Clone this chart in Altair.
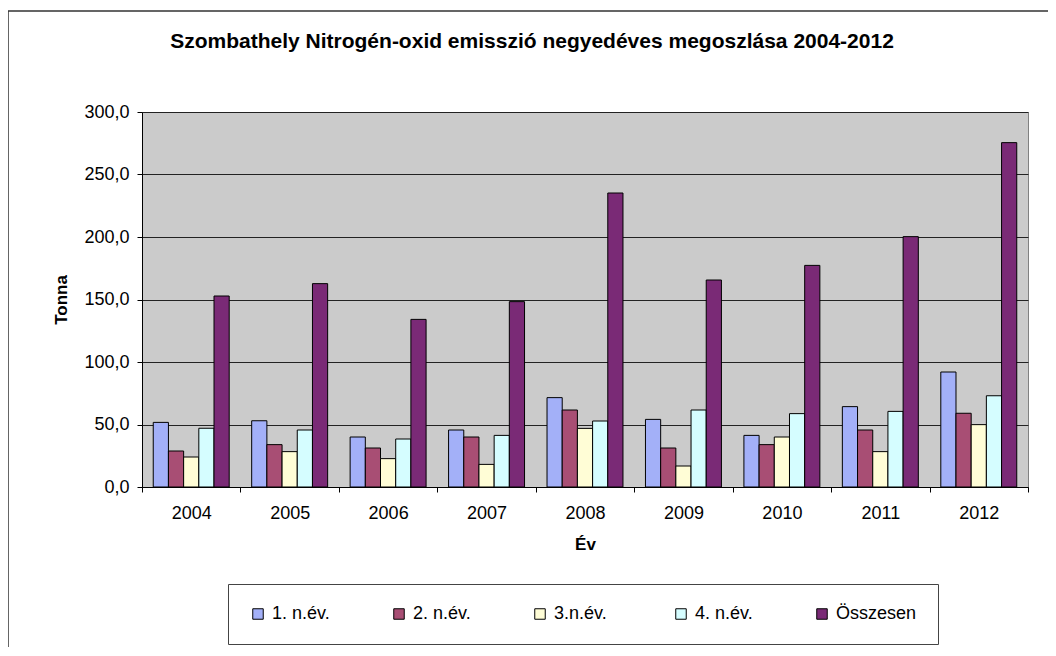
import altair as alt
import pandas as pd

years = ["2004", "2005", "2006", "2007", "2008", "2009", "2010", "2011", "2012"]
series = ["1. n.év.", "2. n.év.", "3.n.év.", "4. n.év.", "Összesen"]
q1 = [51.7, 53.0, 40.0, 45.6, 71.5, 54.1, 41.3, 64.3, 92.0]
q2 = [28.8, 33.9, 31.2, 40.0, 61.6, 31.2, 33.9, 45.6, 59.0]
q3 = [24.0, 28.3, 22.7, 18.1, 46.9, 16.8, 40.0, 28.3, 49.9]
q4 = [47.0, 45.6, 38.4, 41.3, 52.8, 61.6, 58.7, 60.5, 73.0]
total = [152.8, 162.7, 134.1, 148.3, 235.2, 165.6, 177.3, 200.3, 275.5]
colors = ["#A3B0F8", "#A84E74", "#FFFDD6", "#D5FDFF", "#7A2A76"]
y_ticks = [0, 50, 100, 150, 200, 250, 300]

rows = []
for i, yr in enumerate(years):
    for s, vals in zip(series, [q1, q2, q3, q4, total]):
        rows.append({"Év": yr, "Sorozat": s, "Tonna": vals[i]})
df = pd.DataFrame(rows)

W, H = 886, 375
FONT = "Liberation Sans"

bars = alt.Chart(df).mark_bar(stroke="black", strokeWidth=1).encode(
    x=alt.X(
        "Év:N",
        sort=years,
        scale=alt.Scale(paddingInner=0, paddingOuter=0),
        axis=alt.Axis(
            title="Év",
            tickBand="extent",
            labelAngle=0,
            grid=False,
            tickSize=5,
            labelPadding=12,
            titlePadding=14,
        ),
    ),
    xOffset=alt.XOffset(
        "Sorozat:N", sort=series, scale=alt.Scale(paddingOuter=0.74, paddingInner=0)
    ),
    y=alt.Y(
        "Tonna:Q",
        scale=alt.Scale(domain=[0, 300], nice=False),
        axis=alt.Axis(
            title="Tonna",
            values=y_ticks,
            labelExpr="replace(format(datum.value, '.1f'), '.', ',')",
            grid=True,
            gridColor="#222222",
            gridOpacity=1,
            tickSize=5,
            labelPadding=8,
            titlePadding=13,
        ),
    ),
    color=alt.Color(
        "Sorozat:N",
        sort=series,
        scale=alt.Scale(domain=series, range=colors),
        legend=alt.Legend(
            title=None,
            orient="none",
            legendX=86,
            legendY=472,
            direction="horizontal",
            columns=5,
            gridAlign="all",
            columnPadding=37,
            padding=21,
            fillColor="white",
            strokeColor="#444444",
            symbolType="square",
            symbolSize=110,
            symbolStrokeColor="black",
            symbolStrokeWidth=1,
            labelFontSize=18,
            labelFont=FONT,
            labelColor="black",
            labelOffset=5,
        ),
    ),
)

frame = alt.Chart(pd.DataFrame({"a": [0]})).mark_rect(
    fillOpacity=0, stroke="#333333", strokeWidth=1.5
).encode(
    x=alt.value(-134), x2=alt.value(W + 40), y=alt.value(-101), y2=alt.value(H + 180)
)

chart = (
    alt.layer(frame, bars)
    .properties(
        width=W,
        height=H,
        autosize=alt.AutoSizeParams(type="none"),
        padding={"left": 134, "top": 104, "right": 20, "bottom": 160},
        background="white",
        title=alt.TitleParams(
            text="Szombathely Nitrogén-oxid emisszió negyedéves megoszlása 2004-2012",
            font=FONT,
            fontSize=21,
            fontWeight="bold",
            color="black",
            anchor="middle",
            frame="group",
            dx=-53,
            offset=0,
            dy=42,
        ),
    )
    .configure_view(stroke="#808080", fill="#CBCBCB")
    .configure_axis(
        labelFont=FONT,
        labelFontSize=18,
        labelColor="black",
        titleFont=FONT,
        titleFontSize=17,
        titleFontWeight="bold",
        titleColor="black",
        domainColor="black",
        tickColor="black",
    )
)

chart.save("out.html", embed_options={"renderer": "svg", "actions": False})
